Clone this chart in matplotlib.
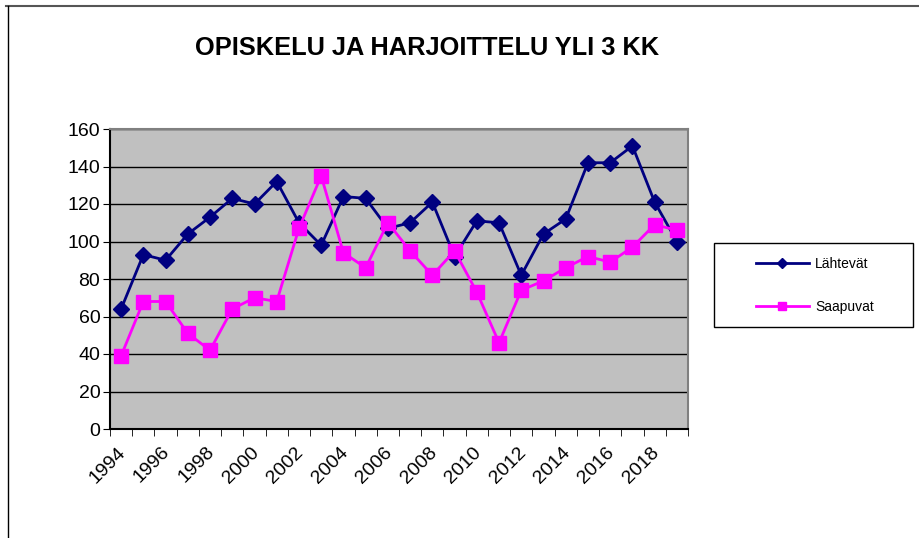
import matplotlib
matplotlib.use("Agg")
import matplotlib.pyplot as plt
from matplotlib.lines import Line2D
from matplotlib.patches import Rectangle
from matplotlib.transforms import ScaledTranslation
import numpy as np

plt.rcParams['font.family'] = ['Liberation Sans', 'DejaVu Sans']

# data
years = list(range(1994, 2020))
lahtevat = [64, 93, 90, 104, 113, 123, 120, 132, 110, 98, 124, 123, 107,
            110, 121, 92, 111, 110, 82, 104, 112, 142, 142, 151, 121, 100]
saapuvat = [39, 68, 68, 51, 42, 64, 70, 68, 107, 135, 94, 86, 110,
            95, 82, 95, 73, 46, 74, 79, 86, 92, 89, 97, 109, 106]
title = "OPISKELU JA HARJOITTELU YLI 3 KK"

W, H = 919, 538
fig = plt.figure(figsize=(W / 100, H / 100), dpi=100)

# outer frame lines (top and left only)
fig.add_artist(Line2D([6 / W, 1.0], [1 - 6 / H, 1 - 6 / H], color="#555555", lw=1.5))
fig.add_artist(Line2D([8 / W, 8 / W], [0, 1 - 6 / H], color="black", lw=1.0))

ax = fig.add_axes([110 / W, 1 - 429 / H, 578 / W, 300 / H])
ax.set_facecolor("#C0C0C0")

x = np.arange(len(years))
ax.plot(x, lahtevat, color="#000080", lw=2, marker="D", ms=8,
        label="Lähtevät", zorder=3)
ax.plot(x, saapuvat, color="#FF00FF", lw=2, marker="s", ms=10.5,
        label="Saapuvat", zorder=3)

ax.set_xlim(-0.5, len(years) - 0.5)
ax.set_ylim(0, 160)
ax.set_yticks(range(0, 161, 20))
ax.yaxis.grid(True, color="black", lw=1)
ax.set_axisbelow(True)

ax.set_xticks(x[::2])
ax.set_xticklabels([str(y) for y in years[::2]], rotation=45, ha="right",
                   va="baseline", rotation_mode="anchor")
ax.set_xticks(np.arange(-0.5, len(years), 1), minor=True)
ax.tick_params(axis="x", which="major", length=0, pad=15, labelsize=14)
ax.tick_params(axis="x", which="minor", length=5, direction="out", color="black")
ax.tick_params(axis="y", length=5, direction="out", labelsize=14, pad=2)
shift = ScaledTranslation(5 / 100, -3 / 100, fig.dpi_scale_trans)
for lbl in ax.get_xticklabels():
    lbl.set_transform(lbl.get_transform() + shift)

for s in ["top", "right"]:
    ax.spines[s].set_color("#808080")
    ax.spines[s].set_linewidth(1.5)
for s in ["left", "bottom"]:
    ax.spines[s].set_color("black")
    ax.spines[s].set_linewidth(1.5)

fig.text(427 / W, 1 - 48 / H, title, ha="center", va="center",
         fontsize=18.3, fontweight="bold")

# legend box drawn separately, entries placed inside it
fig.add_artist(Rectangle((714 / W, 1 - 327 / H), 199 / W, 84 / H, fill=False,
                         edgecolor="black", lw=1, transform=fig.transFigure))
leg = ax.legend(loc="upper left", bbox_to_anchor=(756 / W, 1 - 257 / H),
                bbox_transform=fig.transFigure, frameon=False, fontsize=10,
                handlelength=3.8, handletextpad=0.45, labelspacing=2.1,
                borderpad=0, borderaxespad=0, markerscale=0.6)

fig.savefig("out.png", dpi=100)
